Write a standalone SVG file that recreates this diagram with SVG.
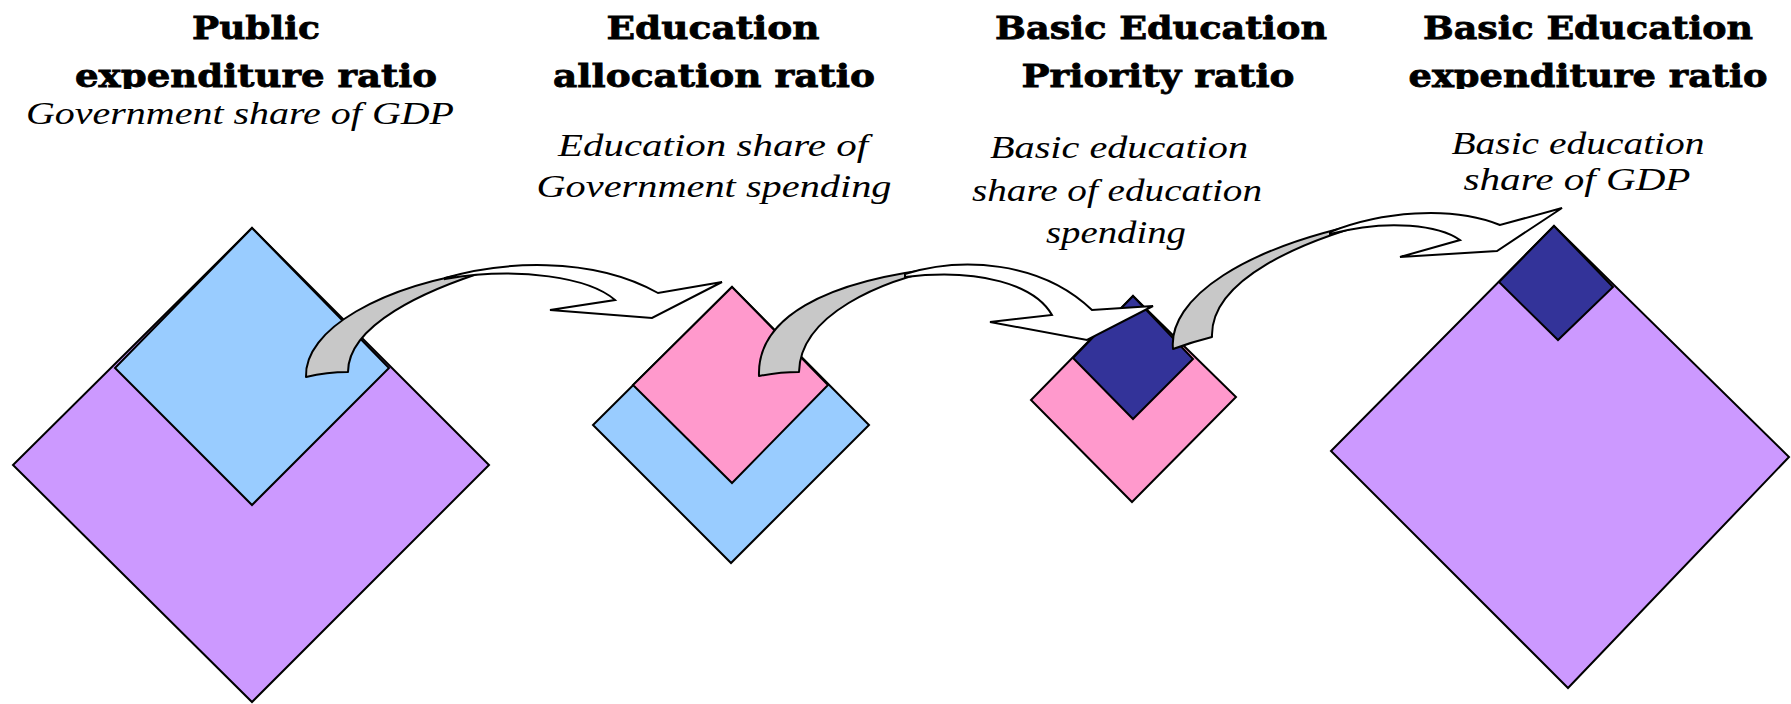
<svg xmlns="http://www.w3.org/2000/svg" width="1791" height="704" viewBox="0 0 1791 704">
<style>
.t{font-family:"DejaVu Serif",serif;font-weight:bold;font-size:32px;fill:#000;stroke:#000;stroke-width:0.8;text-anchor:middle}
.s{font-family:"Liberation Serif","DejaVu Serif",serif;font-style:italic;font-size:32px;fill:#000;text-anchor:middle}
.sh{stroke:#000;stroke-width:2;stroke-linejoin:miter}
.purple{fill:#CC99FF}
.blue{fill:#99CCFF}
.pink{fill:#FF99CC}
.navy{fill:#333399}
.back{fill:#C8C8C8;stroke:#000;stroke-width:2;stroke-linejoin:round}
.front{fill:#FFFFFF;stroke:#000;stroke-width:2;stroke-linejoin:miter}
</style>
<defs>
<clipPath id="clipTitle"><rect x="0" y="0" width="1791" height="89"/></clipPath>
</defs>
<rect width="1791" height="704" fill="#FFFFFF"/>

<g id="node-public-expenditure">
<text class="t" x="256" y="39" textLength="128" lengthAdjust="spacingAndGlyphs">Public</text>
<text class="t" x="256" y="87" textLength="362" lengthAdjust="spacingAndGlyphs" clip-path="url(#clipTitle)">expenditure ratio</text>
<text class="s" x="240" y="124" textLength="428" lengthAdjust="spacingAndGlyphs">Government share of GDP</text>
<polygon class="sh purple" points="252,228 489,465 252,702 13,465"/>
<polygon class="sh blue" points="252,228 389,368 252,505 115,368"/>
</g>

<g id="node-education-allocation">
<text class="t" x="713" y="39" textLength="213" lengthAdjust="spacingAndGlyphs">Education</text>
<text class="t" x="714" y="87" textLength="322" lengthAdjust="spacingAndGlyphs">allocation ratio</text>
<text class="s" x="713" y="156" textLength="310" lengthAdjust="spacingAndGlyphs">Education share of</text>
<text class="s" x="714" y="197" textLength="355" lengthAdjust="spacingAndGlyphs">Government spending</text>
<polygon class="sh blue" points="732,287 869,425 731,563 593,425"/>
<polygon class="sh pink" points="732,287 828,385 732,483 633,385"/>
</g>

<g id="node-basic-priority">
<text class="t" x="1161" y="39" textLength="332" lengthAdjust="spacingAndGlyphs">Basic Education</text>
<text class="t" x="1158" y="87" textLength="273" lengthAdjust="spacingAndGlyphs">Priority ratio</text>
<text class="s" x="1119" y="158" textLength="258" lengthAdjust="spacingAndGlyphs">Basic education</text>
<text class="s" x="1117" y="201" textLength="290" lengthAdjust="spacingAndGlyphs">share of education</text>
<text class="s" x="1116" y="243" textLength="140" lengthAdjust="spacingAndGlyphs">spending</text>
<polygon class="sh pink" points="1133,296 1236,397 1132,502 1031,400"/>
<polygon class="sh navy" points="1133,296 1193,359 1133,419 1073,358"/>
</g>

<g id="node-basic-expenditure">
<text class="t" x="1588" y="39" textLength="330" lengthAdjust="spacingAndGlyphs">Basic Education</text>
<text class="t" x="1588" y="87" textLength="359" lengthAdjust="spacingAndGlyphs" clip-path="url(#clipTitle)">expenditure ratio</text>
<text class="s" x="1578" y="154" textLength="253" lengthAdjust="spacingAndGlyphs">Basic education</text>
<text class="s" x="1577" y="190" textLength="227" lengthAdjust="spacingAndGlyphs">share of GDP</text>
<polygon class="sh purple" points="1554,226 1789,457 1568,688 1331,451"/>
<polygon class="sh navy" points="1554,226 1613,287 1558,340 1499,282"/>
</g>

<g id="connectors">
<g id="arrow-1">
<path class="back" d="M306,377 C304,330 380,285 490,270 C425,290 348,325 348,372 Q327,372 306,377 Z"/>
<path class="front" d="M445,278 C500,262 590,255 658,293 L722,282 L652,318 L550,310 L615,300 C590,278 520,266 445,279 Z"/>
</g>
<g id="arrow-2">
<path class="back" d="M759,376 C757,320 820,280 950,267 C880,280 800,315 799,372 Q780,372 759,376 Z"/>
<path class="front" d="M905,274 C960,257 1040,260 1092,310 L1153,306 L1087,340 L990,322 L1052,315 C1035,285 980,268 905,277 Z"/>
</g>
<g id="arrow-3">
<path class="back" d="M1173,349 C1168,300 1240,245 1390,218 C1300,240 1210,280 1212,337 Q1192,342 1173,349 Z"/>
<path class="front" d="M1330,232 C1380,212 1450,205 1500,225 L1562,208 L1497,251 L1400,257 L1460,240 C1440,226 1390,218 1330,234 Z"/>
</g>
</g>
</svg>
